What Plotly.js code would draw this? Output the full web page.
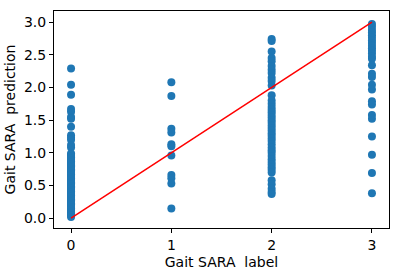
<!DOCTYPE html>
<html>
<head>
<meta charset="utf-8">
<script src="https://cdn.plot.ly/plotly-3.0.1.min.js"></script>
<style>html,body{margin:0;padding:0;background:#fff;}#chart{width:399px;height:274px;}</style>
</head>
<body>
<div id="chart"></div>
<script>
// Predictions grouped by true label
const predLabel0 = [2.29, 2.04, 1.89, 1.67, 1.63, 1.55, 1.52, 1.40, 1.27, 1.23, 1.20, 1.12, 1.08,
  0.99, 0.97, 0.95, 0.93, 0.91, 0.89, 0.87, 0.85, 0.83, 0.81, 0.79, 0.77, 0.75, 0.73, 0.71, 0.69,
  0.67, 0.65, 0.63, 0.61, 0.59, 0.57, 0.55, 0.53, 0.51, 0.49, 0.47, 0.45, 0.43, 0.41, 0.39, 0.37,
  0.35, 0.33, 0.31, 0.29, 0.27, 0.25, 0.23, 0.21, 0.19, 0.17, 0.15, 0.13, 0.11, 0.09, 0.07, 0.05,
  0.04, 0.02];
const predLabel1 = [2.08, 1.87, 1.37, 1.31, 1.13, 1.10, 0.96, 0.66, 0.61, 0.53, 0.15];
const predLabel2 = [2.74, 2.71, 2.55, 2.45, 2.40, 2.33, 2.27, 2.22, 2.15, 2.10, 2.03, 1.88,
  1.80, 1.75, 1.70, 1.66, 1.62, 1.58, 1.54, 1.50, 1.46, 1.42, 1.38, 1.34, 1.30, 1.26, 1.22, 1.18,
  1.13, 1.08, 1.04, 1.00, 0.95, 0.90, 0.86, 0.82, 0.78, 0.74, 0.70, 0.58, 0.52, 0.45, 0.40, 0.37];
const predLabel3 = [2.97, 2.93, 2.88, 2.84, 2.80, 2.76, 2.72, 2.68, 2.64, 2.60, 2.56, 2.52, 2.47,
  2.44, 2.34, 2.21, 2.16, 2.04, 1.97, 1.79, 1.74, 1.58, 1.52, 1.25, 0.97, 0.69, 0.38];
const labels = [0, 1, 2, 3];
const identityX = [0, 3];
const identityY = [0, 3];
const xTicks = [0, 1, 2, 3];
const yTicks = [0.0, 0.5, 1.0, 1.5, 2.0, 2.5, 3.0];
const yTickText = ['0.0', '0.5', '1.0', '1.5', '2.0', '2.5', '3.0'];

const groups = [predLabel0, predLabel1, predLabel2, predLabel3];
const xs = [], ys = [];
groups.forEach((g, i) => g.forEach(v => { xs.push(labels[i]); ys.push(v); }));

const traces = [
  {x: xs, y: ys, type: 'scatter', mode: 'markers',
   marker: {color: '#1f77b4', size: 8, line: {width: 0}}, hoverinfo: 'skip'},
  {x: identityX, y: identityY, type: 'scatter', mode: 'lines',
   line: {color: '#ff0000', width: 1.5}, hoverinfo: 'skip'}
];

const axisCommon = {
  showline: true, mirror: true, linecolor: '#000', linewidth: 1,
  ticks: 'outside', ticklen: 4, tickwidth: 1, tickcolor: '#000',
  showgrid: false, zeroline: false,
  tickfont: {family: 'DejaVu Sans', size: 14, color: '#000'}
};

const layout = {
  width: 399, height: 274,
  margin: {l: 54, r: 10, t: 11, b: 46},
  paper_bgcolor: '#fff', plot_bgcolor: '#fff',
  showlegend: false,
  xaxis: Object.assign({}, axisCommon, {
    range: [-0.17, 3.17], tickvals: xTicks, ticktext: xTicks.map(String),
    title: {text: 'Gait SARA\u00a0 label', font: {family: 'DejaVu Sans', size: 14, color: '#000'}, standoff: 5}
  }),
  yaxis: Object.assign({}, axisCommon, {
    range: [-0.15, 3.17], tickvals: yTicks, ticktext: yTickText,
    title: {text: 'Gait SARA\u00a0 prediction', font: {family: 'DejaVu Sans', size: 14, color: '#000'}, standoff: 5}
  })
};

Plotly.newPlot('chart', traces, layout, {staticPlot: true, displayModeBar: false});
</script>
</body>
</html>
